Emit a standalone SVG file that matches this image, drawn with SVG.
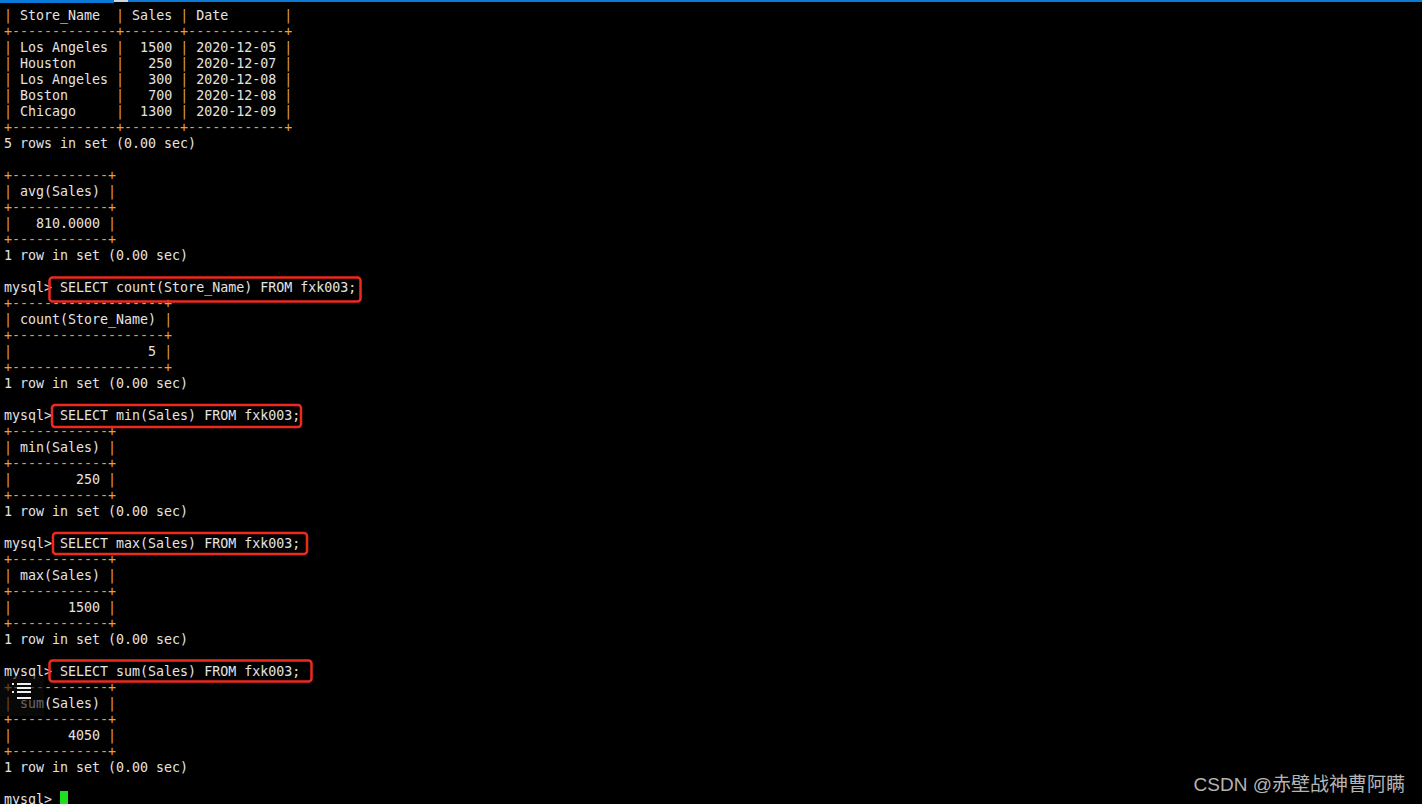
<svg xmlns="http://www.w3.org/2000/svg" width="1422" height="804" viewBox="0 0 1422 804" xml:space="preserve">
<style>
.t{font-family:"DejaVu Sans Mono","Liberation Mono",monospace;font-size:13.3px;fill:#e4e4e4;white-space:pre}
.b{fill:#dfa24f}
.box{fill:none;stroke:#ee2a1f;stroke-width:2.5}
.wm{font-family:"Liberation Sans","Noto Sans CJK SC",sans-serif;font-size:19px;fill:#b4b4b4}
</style>
<rect x="0" y="0" width="1422" height="804" fill="#000"/>
<rect x="0" y="0" width="1422" height="2" fill="#0a7ad6"/>
<rect x="0" y="0" width="114" height="3" fill="#0a7ad6"/>
<rect x="114" y="0" width="14" height="2" fill="#cfd6dc"/>
<g id="terminal">
<text class="t" x="4" y="20"><tspan class="b">|</tspan> Store_Name  <tspan class="b">|</tspan> Sales <tspan class="b">|</tspan> Date       <tspan class="b">|</tspan></text>
<text class="t b" x="4" y="36">+-------------+-------+------------+</text>
<text class="t" x="4" y="52"><tspan class="b">|</tspan> Los Angeles <tspan class="b">|</tspan>  1500 <tspan class="b">|</tspan> 2020-12-05 <tspan class="b">|</tspan></text>
<text class="t" x="4" y="68"><tspan class="b">|</tspan> Houston     <tspan class="b">|</tspan>   250 <tspan class="b">|</tspan> 2020-12-07 <tspan class="b">|</tspan></text>
<text class="t" x="4" y="84"><tspan class="b">|</tspan> Los Angeles <tspan class="b">|</tspan>   300 <tspan class="b">|</tspan> 2020-12-08 <tspan class="b">|</tspan></text>
<text class="t" x="4" y="100"><tspan class="b">|</tspan> Boston      <tspan class="b">|</tspan>   700 <tspan class="b">|</tspan> 2020-12-08 <tspan class="b">|</tspan></text>
<text class="t" x="4" y="116"><tspan class="b">|</tspan> Chicago     <tspan class="b">|</tspan>  1300 <tspan class="b">|</tspan> 2020-12-09 <tspan class="b">|</tspan></text>
<text class="t b" x="4" y="132">+-------------+-------+------------+</text>
<text class="t" x="4" y="148">5 rows in set (0.00 sec)</text>

<text class="t b" x="4" y="180">+------------+</text>
<text class="t" x="4" y="196"><tspan class="b">|</tspan> avg(Sales) <tspan class="b">|</tspan></text>
<text class="t b" x="4" y="212">+------------+</text>
<text class="t" x="4" y="228"><tspan class="b">|</tspan>   810.0000 <tspan class="b">|</tspan></text>
<text class="t b" x="4" y="244">+------------+</text>
<text class="t" x="4" y="260">1 row in set (0.00 sec)</text>

<text class="t" x="4" y="292">mysql&gt; SELECT count(Store_Name) FROM fxk003;</text>
<text class="t b" x="4" y="308">+-------------------+</text>
<text class="t" x="4" y="324"><tspan class="b">|</tspan> count(Store_Name) <tspan class="b">|</tspan></text>
<text class="t b" x="4" y="340">+-------------------+</text>
<text class="t" x="4" y="356"><tspan class="b">|</tspan>                 5 <tspan class="b">|</tspan></text>
<text class="t b" x="4" y="372">+-------------------+</text>
<text class="t" x="4" y="388">1 row in set (0.00 sec)</text>

<text class="t" x="4" y="420">mysql&gt; SELECT min(Sales) FROM fxk003;</text>
<text class="t b" x="4" y="436">+------------+</text>
<text class="t" x="4" y="452"><tspan class="b">|</tspan> min(Sales) <tspan class="b">|</tspan></text>
<text class="t b" x="4" y="468">+------------+</text>
<text class="t" x="4" y="484"><tspan class="b">|</tspan>        250 <tspan class="b">|</tspan></text>
<text class="t b" x="4" y="500">+------------+</text>
<text class="t" x="4" y="516">1 row in set (0.00 sec)</text>

<text class="t" x="4" y="548">mysql&gt; SELECT max(Sales) FROM fxk003;</text>
<text class="t b" x="4" y="564">+------------+</text>
<text class="t" x="4" y="580"><tspan class="b">|</tspan> max(Sales) <tspan class="b">|</tspan></text>
<text class="t b" x="4" y="596">+------------+</text>
<text class="t" x="4" y="612"><tspan class="b">|</tspan>       1500 <tspan class="b">|</tspan></text>
<text class="t b" x="4" y="628">+------------+</text>
<text class="t" x="4" y="644">1 row in set (0.00 sec)</text>

<text class="t" x="4" y="676">mysql&gt; SELECT sum(Sales) FROM fxk003;</text>
<text class="t b" x="4" y="692">+------------+</text>
<text class="t" x="4" y="708"><tspan class="b">|</tspan> sum(Sales) <tspan class="b">|</tspan></text>
<text class="t b" x="4" y="724">+------------+</text>
<text class="t" x="4" y="740"><tspan class="b">|</tspan>       4050 <tspan class="b">|</tspan></text>
<text class="t b" x="4" y="756">+------------+</text>
<text class="t" x="4" y="772">1 row in set (0.00 sec)</text>

<text class="t" x="4" y="804">mysql&gt; </text>
<rect x="60" y="791" width="8" height="13" fill="#1fe01f"/>
</g>
<g id="highlights">
<rect class="box" x="49.5" y="277.5" width="311" height="24" rx="3"/>
<rect class="box" x="52" y="405" width="249" height="22" rx="3"/>
<rect class="box" x="53" y="533" width="254" height="21" rx="3"/>
<rect class="box" x="49.5" y="660.5" width="262" height="21" rx="3"/>
</g>
<g id="overlay-icon">
<rect x="0" y="676" width="44" height="40" fill="#0d0d0d" opacity="0.6"/>
<rect x="12" y="683" width="2" height="2" fill="#e8e8e8"/>
<rect x="17" y="683" width="14" height="2" fill="#f0f0f0"/>
<rect x="17" y="687" width="14" height="2" fill="#f0f0f0"/>
<rect x="12" y="691" width="2" height="2" fill="#e8e8e8"/>
<rect x="17" y="691" width="14" height="2" fill="#f0f0f0"/>
<rect x="17" y="697" width="14" height="2" fill="#f0f0f0"/>
</g>
<text class="wm" x="1405" y="791" text-anchor="end">CSDN @赤壁战神曹阿瞒</text>
</svg>
